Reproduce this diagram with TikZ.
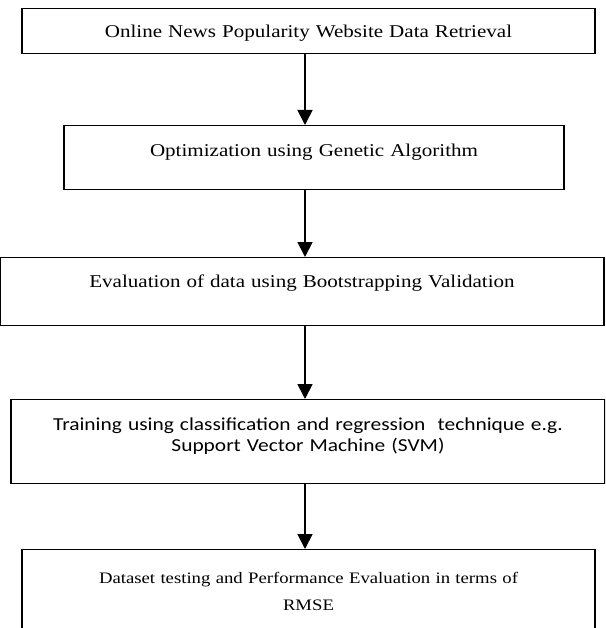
\documentclass[tikz,border=0pt]{standalone}
\usepackage{fontspec}
\setmainfont{Liberation Serif}[FakeStretch=1.17]
\newfontfamily\calib{Carlito}[FakeStretch=1.17]
\usetikzlibrary{arrows.meta}

\begin{document}
\begin{tikzpicture}[x=1pt,y=-1pt,>={Triangle[length=15pt,width=15pt]},
		font=\fontsize{18}{27}\selectfont,
		stage/.style={draw,line width=1.4pt,inner sep=0pt,anchor=north,align=center},
		flow/.style={->,line width=1.8pt}]
	\useasboundingbox (0,0) rectangle (605,628);
	\clip (0,0) rectangle (605,628);
	\coordinate (spine) at (305,0);
	\node[stage,text width=573pt,text height=29pt,text depth=16pt] (retrieve) at (308.5,8) {Online News Popularity Website Data Retrieval};
	\node[stage,text width=500pt,text height=31pt,text depth=33pt] (optimize) at (314,125) {Optimization using Genetic Algorithm};
	\node[stage,text width=604pt,text height=30pt,text depth=38pt] (evaluate) at (302,257) {Evaluation of data using Bootstrapping Validation};
	\node[stage,text width=594pt,text height=31pt,text depth=53pt,font=\calib\fontsize{18.3}{20.5}\selectfont] (train) at (308,399) {Training using classification and regression\ \ technique e.g.\\Support Vector Machine (SVM)};
	\node[stage,text width=573pt,text height=34pt,text depth=57pt,font=\fontsize{16}{27}\selectfont] (test) at (308.5,549) {Dataset testing and Performance Evaluation in terms of\\RMSE};
	\draw[flow] (retrieve.south -| spine) -- (optimize.north -| spine);
	\draw[flow] (optimize.south -| spine) -- (evaluate.north -| spine);
	\draw[flow] (evaluate.south -| spine) -- (train.north -| spine);
	\draw[flow] (train.south -| spine) -- (test.north -| spine);
\end{tikzpicture}
\end{document}
